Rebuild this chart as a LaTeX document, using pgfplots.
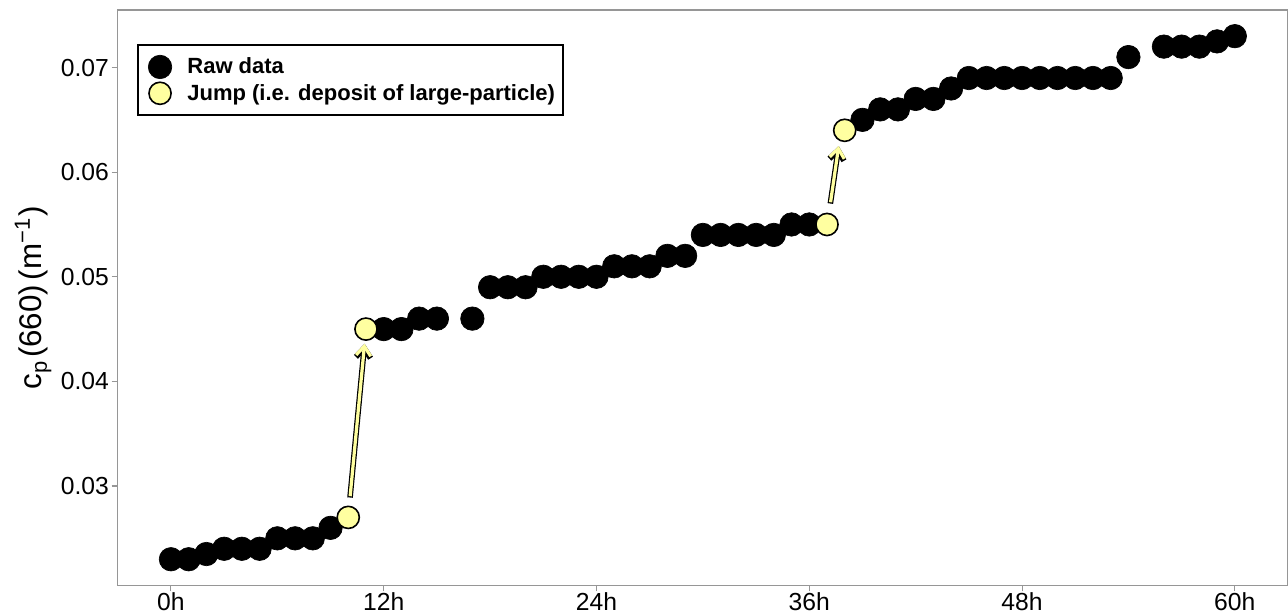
\documentclass[border=0pt]{standalone}
\usepackage{pgfplots}
\pgfplotsset{compat=1.18}
\usepackage{fontspec}
\setmainfont{Liberation Sans}
\usetikzlibrary{arrows.meta}
\definecolor{jumpy}{RGB}{255,255,160}
\definecolor{axgray}{RGB}{150,150,150}
\begin{document}
\begin{tikzpicture}
\useasboundingbox (-88.3pt,-21.75pt) rectangle (877.6pt,439pt);
\begin{axis}[
  scale only axis,
  width=877.6pt, height=431.5pt,
  xmin=-3, xmax=63, ymin=0.0205, ymax=0.0755,
  axis line style={axgray, line width=0.8pt},
  tick style={axgray, line width=0.8pt},
  tick align=outside, major tick length=4.5pt,
  xtick pos=bottom, ytick pos=left,
  xtick={0,12,24,36,48,60},
  xticklabels={0h,12h,24h,36h,48h,60h},
  ytick={0.03,0.04,0.05,0.06,0.07},
  yticklabels={0.03,0.04,0.05,0.06,0.07},
  tick label style={font=\fontsize{18.5}{20}\selectfont, text=black},
  xticklabel style={inner sep=1pt},
  yticklabel style={inner sep=2pt},
  ylabel={c\textsubscript{p}\hspace{0.1em}(660)\hspace{0.15em}(m\textsuperscript{−1}\hspace{0.05em})},
  ylabel style={at={(axis description cs:-0.0724,0.5)}, anchor=center, font=\fontsize{23.5}{25}\selectfont},
  legend style={at={(axis description cs:0.0165,0.941)}, anchor=north west,
    draw=black, line width=1.5pt, inner xsep=4pt, inner ysep=7pt,
    font=\fontsize{16.5}{18}\selectfont\bfseries, row sep=0.75pt,
    cells={anchor=west}},
  legend image code/.code={\draw[#1] plot coordinates {(12.5pt,0pt)}; \path[draw=none,fill=none] (0pt,-9.5pt) rectangle (31pt,9.5pt);},
  clip=false,
]
\addplot[only marks, mark=*, mark size=8.8pt, draw=black, fill=black, line width=0.5pt] coordinates {
(0,0.023)(1,0.023)(2,0.0235)(3,0.024)(4,0.024)(5,0.024)(6,0.025)(7,0.025)(8,0.025)(9,0.026)
(12,0.045)(13,0.045)(14,0.046)(15,0.046)(17,0.046)
(18,0.049)(19,0.049)(20,0.049)(21,0.050)(22,0.050)(23,0.050)(24,0.050)
(25,0.051)(26,0.051)(27,0.051)(28,0.052)(29,0.052)
(30,0.054)(31,0.054)(32,0.054)(33,0.054)(34,0.054)(35,0.055)(36,0.055)
(39,0.065)(40,0.066)(41,0.066)(42,0.067)(43,0.067)(44,0.068)
(45,0.069)(46,0.069)(47,0.069)(48,0.069)(49,0.069)(50,0.069)(51,0.069)(52,0.069)(53,0.069)
(54,0.071)(56,0.072)(57,0.072)(58,0.072)(59,0.0725)(60,0.073)
};
\addlegendentry{Raw data}
\addplot[only marks, mark=*, mark size=8.3pt, draw=black, fill=jumpy, line width=1.2pt] coordinates {
(10,0.027)(11,0.045)(37,0.055)(38,0.064)
};
\addlegendentry{Jump (i.e. deposit of large-particle)}
\draw[black, line width=4.2pt, -{Straight Barb[length=7pt,width=11pt]}] (axis cs:10.1,0.0289) -- (axis cs:10.92,0.0436);
\draw[jumpy, line width=2.4pt, shorten <=1pt, -{Straight Barb[length=7pt,width=11pt]}] (axis cs:10.1,0.0289) -- (axis cs:10.92,0.0436);
\draw[black, line width=4.2pt, -{Straight Barb[length=7pt,width=11pt]}] (axis cs:37.19,0.0570) -- (axis cs:37.66,0.0625);
\draw[jumpy, line width=2.4pt, shorten <=1pt, -{Straight Barb[length=7pt,width=11pt]}] (axis cs:37.19,0.0570) -- (axis cs:37.66,0.0625);
\end{axis}
\end{tikzpicture}
\end{document}
